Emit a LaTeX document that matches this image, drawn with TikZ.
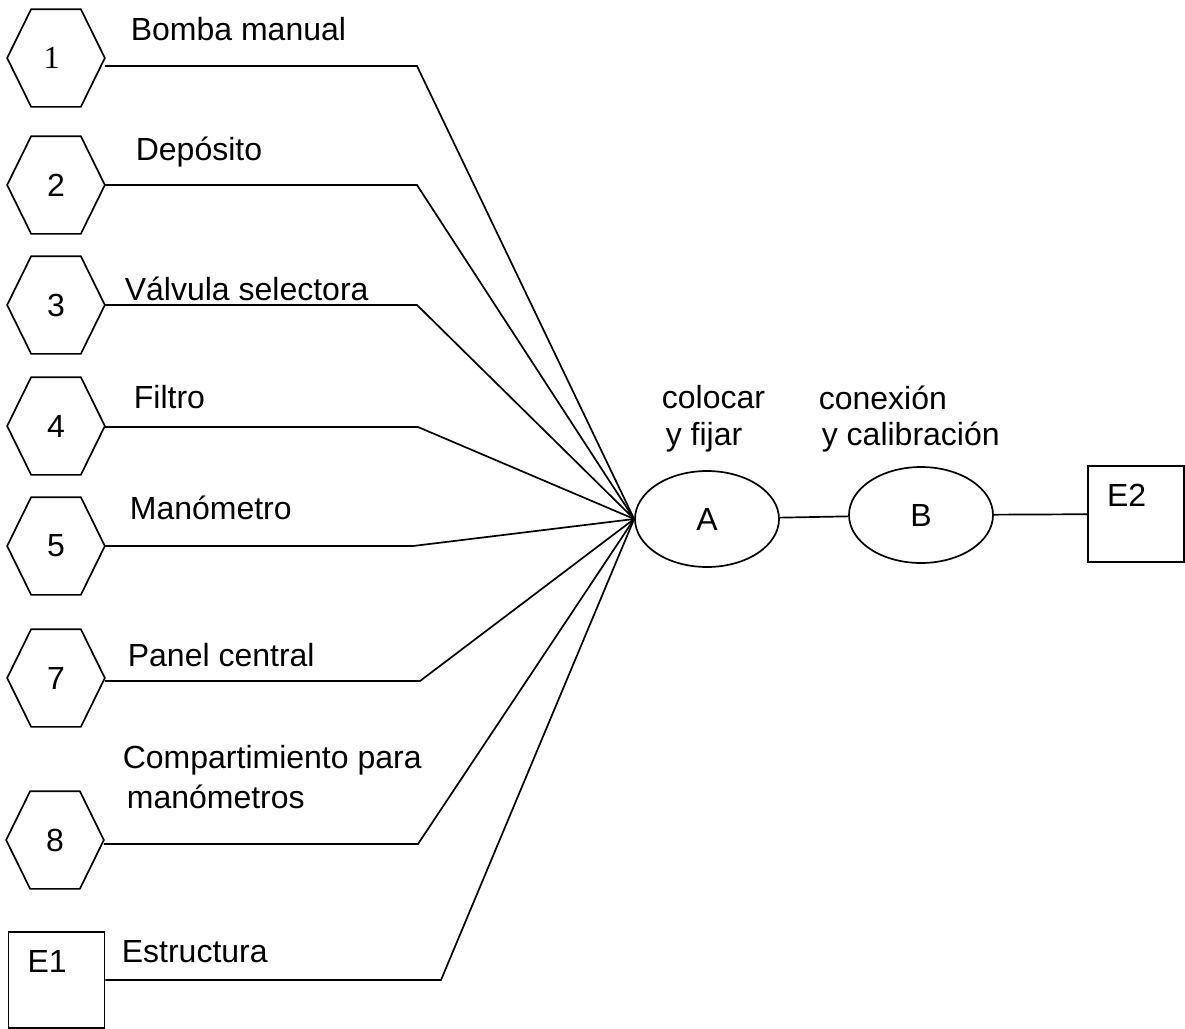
\documentclass[tikz,border=0pt]{standalone}
\usepackage{fontspec}
\setmainfont{Liberation Sans}
\newfontfamily\numserif{Liberation Serif}
\usetikzlibrary{shapes.geometric}
\begin{document}
\begin{tikzpicture}[x=1pt, y=-1pt, line width=1.7pt,
  every node/.style={inner sep=0pt, font=\fontsize{32}{38}\selectfont},
  hexnode/.style={minimum width=96pt, minimum height=96pt},
  boxnode/.style={draw, minimum width=96pt, minimum height=96pt},
  opnode/.style={draw, ellipse, minimum width=144pt, minimum height=96pt},
  lbl/.style={anchor=base west},
  boxlbl/.style={label={[anchor=base west, xshift=19pt, yshift=-41pt]north west:#1}}]

\useasboundingbox (0,0) rectangle (1185,1028);

% component parts (hexagons)
\node[hexnode] (h1) at (56,58)  {\numserif\kern-9pt 1};
\node[hexnode] (h2) at (56,185) {2};
\node[hexnode] (h3) at (56,305) {3};
\node[hexnode] (h4) at (56,426) {4};
\node[hexnode] (h5) at (56,546) {5};
\node[hexnode] (h7) at (56,678) {7};
\node[hexnode] (h8) at (55,840) {8};
\foreach \h in {h1,h2,h3,h4,h5,h7,h8}
  \draw (\h.west) -- ([xshift=24pt]\h.north west) -- ([xshift=-24pt]\h.north east)
        -- (\h.east) -- ([xshift=-24pt]\h.south east) -- ([xshift=24pt]\h.south west) -- cycle;

% sub-assemblies
\node[boxnode, boxlbl=E1] (E1) at (56.5,980) {};
\node[boxnode, boxlbl=E2] (E2) at (1136,514) {};

% operations
\node[opnode] (A) at (707,519) {A};
\node[opnode] (B) at (921,515) {B};

% connectors into operation A
\draw ([yshift=-8pt]h1.east) -- (417,66)  -- (A.west);
\draw (h2.east) -- (417,185) -- (A.west);
\draw (h3.east) -- (417,305) -- (A.west);
\draw ([yshift=-1pt]h4.east) -- (418,427) -- (A.west);
\draw (h5.east) -- (413,546) -- (A.west);
\draw ([yshift=-3pt]h7.east) -- (420,681) -- (A.west);
\draw ([yshift=-4pt]h8.east) -- (418,844) -- (A.west);
\draw (E1.east) -- (441,980) -- (A.west);
\draw (A) -- (B);
\draw (B) -- (E2);

% part names
\node[lbl] at (130,40)  {Bomba manual};
\node[lbl] at (135,160) {Depósito};
\node[lbl] at (124,300) {Válvula selectora};
\node[lbl] at (133,408) {Filtro};
\node[lbl] at (129,519) {Manómetro};
\node[lbl] at (127,666) {Panel central};
\node[lbl] at (122,768) {Compartimiento para};
\node[lbl] at (126,808) {manómetros};
\node[lbl] at (121,962) {Estructura};

% operation names
\node[lbl] at (661,408) {colocar};
\node[lbl] at (665,445) {y fijar};
\node[lbl] at (818,409) {conexión};
\node[lbl] at (821,445) {y calibración};
\end{tikzpicture}
\end{document}
